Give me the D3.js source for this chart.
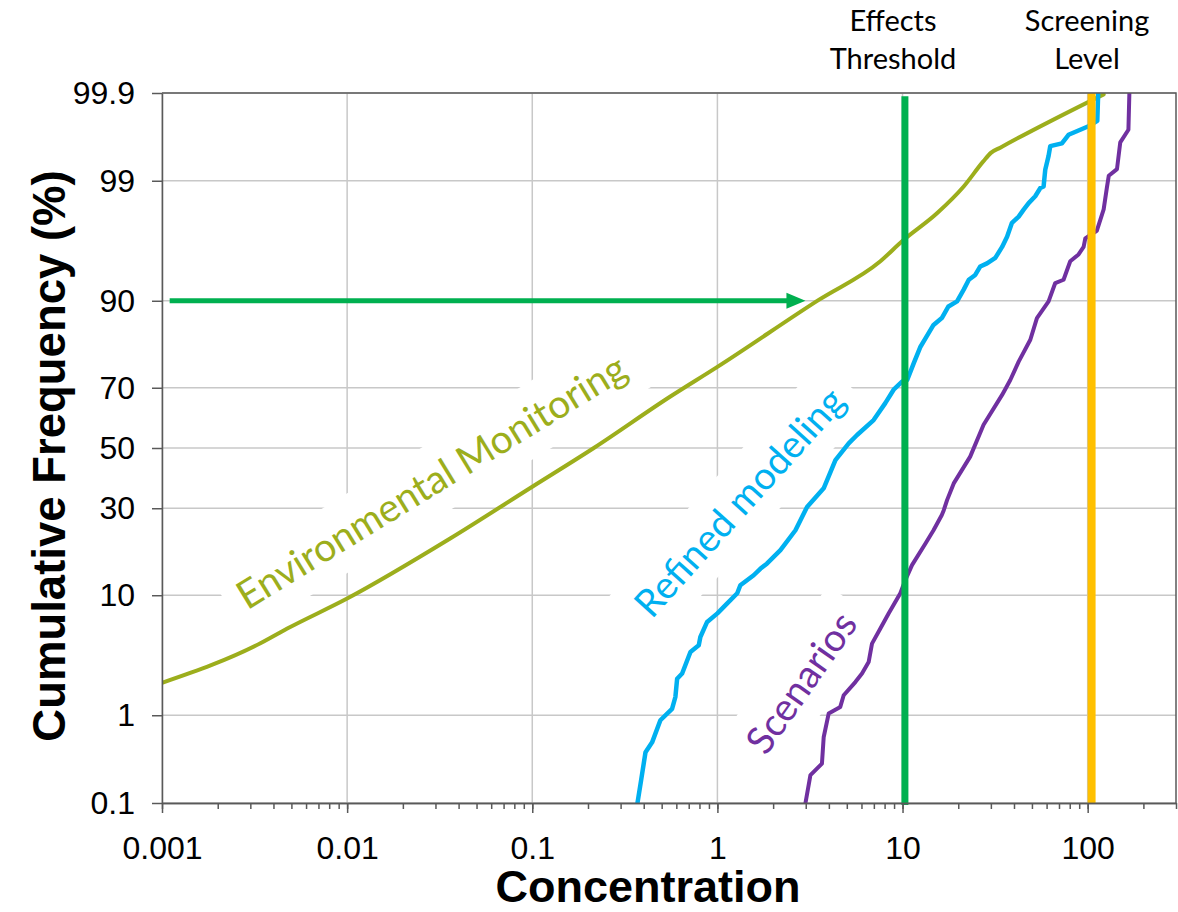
<!DOCTYPE html>
<html>
<head>
<meta charset="utf-8">
<script src="https://cdn.jsdelivr.net/npm/d3@7"></script>
<style>
body { margin: 0; background: #fff; }
svg { display: block; }
</style>
</head>
<body>
<svg id="chart" width="1178" height="912"></svg>
<script>
var xTickValues = [0.001, 0.01, 0.1, 1, 10, 100];
var xTickLabels = ["0.001", "0.01", "0.1", "1", "10", "100"];
var yTickValues = [0.1, 1, 10, 30, 50, 70, 90, 99, 99.9];
var yTickLabels = ["0.1", "1", "10", "30", "50", "70", "90", "99", "99.9"];

// environmental monitoring (smooth fitted curve)
var envConc = [0.001, 0.0034, 0.00475, 0.01, 0.0362, 0.1, 0.215, 0.557, 1.0, 3.51, 7.59, 9.94, 15.4, 21.4, 27.3, 30, 33.7, 122];
var envPct  = [2.05, 4.46, 5.8, 9.5, 21.6, 36.8, 50, 67.3, 76.0, 90.1, 94.8, 96.4, 97.96, 98.86, 99.37, 99.49, 99.553, 99.896];

// refined modeling (empirical)
var refConc = [0.37, 0.387, 0.409, 0.444, 0.492, 0.569, 0.593, 0.606, 0.645, 0.715,
               0.793, 0.809, 0.88, 1.0, 1.13, 1.28, 1.33, 1.57, 1.71, 1.85,
               2.19, 2.64, 3.05, 3.75, 4.34, 5.12, 5.68, 6.98, 8.07, 8.95,
               9.94, 10.6, 11.5, 12.5, 13.3, 14.7, 16.3, 17.7, 19.7, 21.4,
               22.8, 24.7, 26.3, 28.6, 31.7, 34.5, 36.7, 39.0, 42.4, 45.1,
               48.0, 52.1, 55.5, 57.8, 59.0, 61.5, 62.8, 72.6, 78.8, 91.2,
               101, 112.7, 114];
var refPct  = [0.1, 0.19, 0.405, 0.52, 0.89, 1.16, 1.51, 2.23, 2.48, 3.79,
               4.29, 5.0, 6.5, 7.5, 8.8, 10.3, 11.6, 13.4, 14.7, 15.7,
               18.7, 23.7, 30.4, 36.3, 45.8, 51.6, 54.5, 59.6, 65.2, 69.4,
               71.8, 72.3, 77.0, 81.1, 83.0, 85.8, 87.1, 89.1, 89.9, 91.6,
               92.85, 93.4, 94.3, 94.6, 95.1, 96.0, 96.7, 97.5, 97.8, 98.1,
               98.35, 98.58, 98.82, 98.86, 99.23, 99.45, 99.57, 99.60, 99.68, 99.72,
               99.745, 99.78, 99.9];

// scenarios
var scnConc = [2.99, 3.18, 3.67, 3.75, 3.99, 4.61, 4.81, 5.56, 6.04, 6.56,
               6.84, 7.59, 8.41, 9.73, 10.35, 11.25, 13.3, 14.7, 16.3, 16.7,
               17.4, 18.9, 23.2, 27.4, 34.5, 38.2, 42.4, 49.0, 53.2, 61.5,
               66.8, 74.1, 80.5, 89.3, 95.1, 97.1, 103, 112, 122, 127,
               130, 144, 150, 166, 168];
var scnPct  = [0.1, 0.22, 0.30, 0.59, 1.04, 1.21, 1.57, 2.08, 2.48, 3.12,
               4.43, 5.80, 7.48, 10.3, 12.5, 15.4, 20.3, 23.7, 28.0, 29.4,
               32.5, 37.9, 47.0, 58.0, 67.8, 72.3, 77.4, 82.7, 87.1, 89.9,
               92.45, 92.85, 94.8, 95.4, 96.0, 96.6, 96.8, 97.06, 98.11, 98.83,
               99.11, 99.24, 99.61, 99.72, 99.9];

var effectsThreshold = 10.3;
var screeningLevel = 105;
var arrowFrom = 0.0011, arrowTo = 2.99, arrowPct = 90;

var envColor = "#9cae1c", refColor = "#00b0f0", scnColor = "#7030a0";
var effColor = "#00b050", scrColor = "#ffc000";
var axisColor = "#595959", gridColor = "#c8c8c8";
var sansFont = "'Liberation Sans', Arial, sans-serif";
var labelFont = "Lato, 'Open Sans', sans-serif";

// inverse normal cdf (Acklam)
function probit(p) {
	var a = [-3.969683028665376e+01, 2.209460984245205e+02, -2.759285104469687e+02, 1.383577518672690e+02, -3.066479806614716e+01, 2.506628277459239e+00];
	var b = [-5.447609879822406e+01, 1.615858368580409e+02, -1.556989798598866e+02, 6.680131188771972e+01, -1.328068155288572e+01];
	var c = [-7.784894002430293e-03, -3.223964580411365e-01, -2.400758277161838e+00, -2.549732539343734e+00, 4.374664141464968e+00, 2.938163982698783e+00];
	var d = [7.784695709041462e-03, 3.224671290700398e-01, 2.445134137142996e+00, 3.754408361280756e+00];
	var plow = 0.02425, q, r;
	if (p < plow) {
		q = Math.sqrt(-2 * Math.log(p));
		return (((((c[0]*q+c[1])*q+c[2])*q+c[3])*q+c[4])*q+c[5]) / ((((d[0]*q+d[1])*q+d[2])*q+d[3])*q+1);
	}
	if (p > 1 - plow) {
		q = Math.sqrt(-2 * Math.log(1 - p));
		return -(((((c[0]*q+c[1])*q+c[2])*q+c[3])*q+c[4])*q+c[5]) / ((((d[0]*q+d[1])*q+d[2])*q+d[3])*q+1);
	}
	q = p - 0.5; r = q * q;
	return (((((a[0]*r+a[1])*r+a[2])*r+a[3])*r+a[4])*r+a[5])*q / (((((b[0]*r+b[1])*r+b[2])*r+b[3])*r+b[4])*r+1);
}

var plotLeft = 162, plotRight = 1176, plotTop = 93, plotBottom = 803;

var xScale = d3.scaleLog()
	.domain([0.001, 300])
	.range([plotLeft, plotRight]);

var zScale = d3.scaleLinear()
	.domain([probit(0.001), probit(0.999)])
	.range([plotBottom, plotTop]);

function yPos(pct) { return zScale(probit(pct / 100)); }

var svg = d3.select("#chart");

svg.append("defs").append("clipPath").attr("id", "plot-clip")
	.append("rect")
		.attr("x", plotLeft).attr("y", plotTop)
		.attr("width", plotRight - plotLeft).attr("height", plotBottom - plotTop);

// gridlines
var grid = svg.append("g").attr("stroke", gridColor).attr("stroke-width", 1.5);
grid.selectAll(".vgrid")
	.data(xTickValues)
	.enter().append("line")
		.attr("x1", function(d) { return xScale(d); })
		.attr("x2", function(d) { return xScale(d); })
		.attr("y1", plotTop).attr("y2", plotBottom);
grid.selectAll(".hgrid")
	.data(yTickValues)
	.enter().append("line")
		.attr("x1", plotLeft).attr("x2", plotRight)
		.attr("y1", function(d) { return yPos(d); })
		.attr("y2", function(d) { return yPos(d); });

// curve labels (white boxes hide the grid behind them)
var curveLabels = [
	{text: "Environmental Monitoring", conc: 0.0312, pct: 34.7, angle: -31.5, length: 449, color: envColor},
	{text: "Refined modeling", conc: 1.49, pct: 29.1, angle: -48, length: 292, color: refColor},
	{text: "Scenarios", conc: 3.26, pct: 1.74, angle: -55, length: 162, color: scnColor}
];

var labelG = svg.append("g");
curveLabels.forEach(function(l) {
	var g = labelG.append("g")
		.attr("transform", "translate(" + xScale(l.conc) + "," + yPos(l.pct) + ") rotate(" + l.angle + ")");
	var rect = g.append("rect").attr("fill", "#fff");
	var t = g.append("text")
		.attr("text-anchor", "middle")
		.attr("font-family", labelFont)
		.attr("font-size", 40)
		.attr("fill", l.color)
		.text(l.text);
	var fs = 40 * l.length / t.node().getComputedTextLength();
	t.attr("font-size", fs);
	rect.attr("x", -l.length / 2 - 14).attr("width", l.length + 28)
		.attr("y", -0.35 * fs - 34).attr("height", 68);
});

// series
var line = d3.line()
	.x(function(d) { return xScale(d[0]); })
	.y(function(d) { return yPos(d[1]); });

var series = svg.append("g").attr("clip-path", "url(#plot-clip)")
	.attr("fill", "none").attr("stroke-linejoin", "round").attr("stroke-linecap", "round");

series.append("path")
	.datum(d3.zip(envConc, envPct))
	.attr("stroke", envColor).attr("stroke-width", 4)
	.attr("d", line.curve(d3.curveMonotoneX));

series.append("path")
	.datum(d3.zip(refConc, refPct))
	.attr("stroke", refColor).attr("stroke-width", 4.5)
	.attr("d", line.curve(d3.curveLinear));

series.append("path")
	.datum(d3.zip(scnConc, scnPct))
	.attr("stroke", scnColor).attr("stroke-width", 4)
	.attr("d", line.curve(d3.curveLinear));

// threshold lines
svg.append("line")
	.attr("x1", xScale(effectsThreshold)).attr("x2", xScale(effectsThreshold))
	.attr("y1", yPos(99.89)).attr("y2", plotBottom + 2)
	.attr("stroke", effColor).attr("stroke-width", 7);
svg.append("line")
	.attr("x1", xScale(screeningLevel)).attr("x2", xScale(screeningLevel))
	.attr("y1", plotTop).attr("y2", plotBottom)
	.attr("stroke", scrColor).attr("stroke-width", 8);

// 90th percentile arrow
var ay = yPos(arrowPct), ax1 = xScale(arrowFrom), ax2 = xScale(arrowTo);
svg.append("line")
	.attr("x1", ax1).attr("x2", ax2 - 12)
	.attr("y1", ay).attr("y2", ay)
	.attr("stroke", effColor).attr("stroke-width", 5);
svg.append("path")
	.attr("d", "M" + ax2 + "," + ay + "L" + (ax2 - 19) + "," + (ay - 8) + "L" + (ax2 - 19) + "," + (ay + 8) + "Z")
	.attr("fill", effColor);

// frame (top and right)
svg.append("path")
	.attr("d", "M" + plotLeft + "," + plotTop + "H" + plotRight + "V" + plotBottom)
	.attr("fill", "none").attr("stroke", axisColor).attr("stroke-width", 1.5);

// axes
var xMinor = svg.append("g")
	.attr("transform", "translate(0," + plotBottom + ")")
	.call(d3.axisBottom(xScale).tickValues(xScale.ticks()).tickSize(6).tickSizeOuter(0).tickFormat(""));

var xAxis = svg.append("g")
	.attr("transform", "translate(0," + plotBottom + ")")
	.call(d3.axisBottom(xScale)
		.tickValues(xTickValues)
		.tickSize(10)
		.tickSizeOuter(0)
		.tickPadding(23)
		.tickFormat(function(d, i) { return xTickLabels[i]; }));

var yAxis = svg.append("g")
	.attr("transform", "translate(" + plotLeft + ",0)")
	.call(d3.axisLeft(zScale)
		.tickValues(yTickValues.map(function(p) { return probit(p / 100); }))
		.tickSize(10)
		.tickSizeOuter(0)
		.tickPadding(17)
		.tickFormat(function(d, i) { return yTickLabels[i]; }));

[xMinor, xAxis, yAxis].forEach(function(g) {
	g.selectAll("path, line").attr("stroke", axisColor).attr("stroke-width", 1.5);
	g.selectAll("text").attr("font-family", sansFont).attr("font-size", 32).attr("fill", "#000");
});

// axis titles
svg.append("text")
	.attr("x", 648).attr("y", 902)
	.attr("text-anchor", "middle")
	.attr("font-family", sansFont).attr("font-weight", "bold").attr("font-size", 45)
	.text("Concentration");

svg.append("text")
	.attr("transform", "translate(65,456) rotate(-90)")
	.attr("text-anchor", "middle")
	.attr("font-family", sansFont).attr("font-weight", "bold").attr("font-size", 45.5)
	.text("Cumulative Frequency (%)");

// threshold labels
var topLabels = [
	{lines: ["Effects", "Threshold"], x: 893},
	{lines: ["Screening", "Level"], x: 1087}
];
topLabels.forEach(function(l) {
	l.lines.forEach(function(s, i) {
		svg.append("text")
			.attr("x", l.x).attr("y", 31 + i * 37.5)
			.attr("text-anchor", "middle")
			.attr("font-family", labelFont).attr("font-size", 29)
			.attr("fill", "#000")
			.text(s);
	});
});
</script>
</body>
</html>
